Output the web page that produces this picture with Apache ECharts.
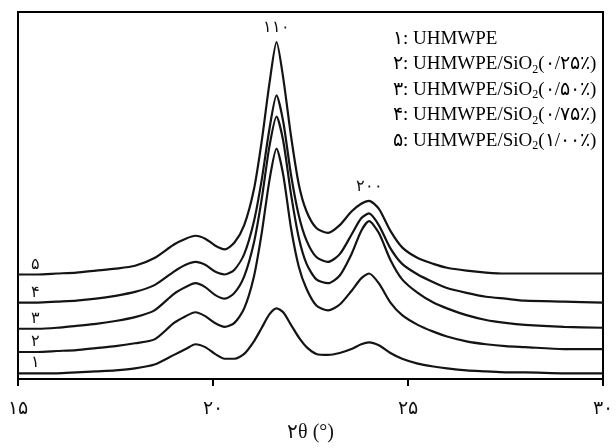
<!DOCTYPE html>
<html><head><meta charset="utf-8">
<script src="https://cdn.jsdelivr.net/npm/echarts@6/dist/echarts.min.js"></script>
<style>html,body{margin:0;padding:0;background:#fff}#c{width:616px;height:448px}</style>
</head><body><div id="c"></div>
<script>
const twoTheta = [15,15.5,16,16.5,17,17.5,18,18.5,19,19.3,19.55,19.8,20.05,20.3,20.55,20.8,21.05,21.25,21.45,21.63,21.8,22.0,22.2,22.4,22.65,22.95,23.25,23.55,23.8,24.0,24.25,24.55,24.85,25.25,25.65,26,26.5,27,27.5,28,29,30];
const curve1 = [6,6,6,7,8,9,11,15,25,31,36,33,26,21,21,26,39,53,67,73,69,56,43,33,26,25,27,31,36,38,35,27,21,16,13,11,9,8,7,7,6,6];
const curve2 = [28,28,29,30,32,34,37,41,58,65,69,65,58,54,58,73,106,151,206,238,211,156,116,93,76,71,77,91,104,109,99,79,66,56,49,44,39,36,34,33,31,31];
const curve3 = [52,52,53,55,57,60,64,71,88,95,99,95,87,83,89,106,141,186,241,271,246,191,146,119,103,99,107,129,153,163,151,123,103,89,79,73,66,61,58,56,54,53];
const curve4 = [79,79,80,81,83,86,90,97,111,118,121,118,111,108,113,129,163,206,259,293,266,211,169,143,126,121,129,149,166,171,159,135,119,108,100,94,89,85,83,81,80,79];
const curve5 = [108,108,109,110,112,114,117,125,139,145,148,145,138,134,141,159,196,246,306,348,311,251,201,173,156,151,159,173,181,184,176,153,136,125,119,115,112,110,109,109,109,109];
const curveNames = ['۱','۲','۳','۴','۵'];
const legendLines = [
  ['۱', null, null],
  ['۲', 'UHMWPE/SiO', '(۰/۲۵٪)'],
  ['۳', 'UHMWPE/SiO', '(۰/۵۰٪)'],
  ['۴', 'UHMWPE/SiO', '(۰/۷۵٪)'],
  ['۵', 'UHMWPE/SiO', '(۱/۰۰٪)']
];
const peakLabels = [['۱۱۰',21.63],['۲۰۰',24.0]];

const fa = s => String(s).replace(/[0-9]/g, d => '۰۱۲۳۴۵۶۷۸۹'[d]);
const serif = '"Liberation Serif","DejaVu Serif",serif';
const all = [curve1,curve2,curve3,curve4,curve5];

const chart = echarts.init(document.getElementById('c'), null, {renderer:'canvas'});
const series = all.map((c,i)=>({
  type:'line', data: twoTheta.map((x,j)=>[x,c[j]]), symbol:'none', smooth:0.25,
  lineStyle:{color:'#141414', width:2.2}, silent:true, z:3
}));
chart.setOption({
  animation:false,
  grid:{left:18, right:10, top:12, bottom:57, show:true, borderColor:'#000', borderWidth:2, backgroundColor:'#fff'},
  xAxis:{type:'value', min:15, max:30, interval:5,
    axisLine:{show:true, lineStyle:{color:'#000', width:2}},
    axisTick:{show:true, length:7, lineStyle:{color:'#000', width:2}},
    axisLabel:{formatter:v=>fa(v), fontFamily:serif, fontSize:19, color:'#111', margin:20, showMinLabel:true, showMaxLabel:true},
    splitLine:{show:false},
    name:'۲θ (°)', nameLocation:'middle', nameGap:40, nameTextStyle:{fontFamily:serif, fontSize:20, color:'#111'}
  },
  yAxis:{type:'value', min:0, max:379, show:false},
  series: series
});

const g = [];
peakLabels.forEach(([t,x])=>{
  const idx = twoTheta.indexOf(x);
  const top = Math.max(...all.map(c=>c[idx]));
  const p = chart.convertToPixel({gridIndex:0},[x, top]);
  g.push({type:'text', x:p[0], y:p[1]-6, style:{text:t, font:'16px '+serif, fill:'#111', textAlign:'center', textVerticalAlign:'bottom'}});
});
all.forEach((c,i)=>{
  const p = chart.convertToPixel({gridIndex:0},[15.45, c[1]]);
  g.push({type:'text', x:p[0], y:p[1]-2, style:{text:curveNames[i], font:'16px '+serif, fill:'#111', textAlign:'center', textVerticalAlign:'bottom'}});
});
legendLines.forEach((l,i)=>{
  const y = 39 + i*25.5;
  const rich = {
    n:{fontFamily:serif, fontSize:19, color:'#111'},
    s:{fontFamily:serif, fontSize:12, color:'#111', padding:[10,0,0,0]}
  };
  const text = l[1] ? `{n|${l[0]}: ${l[1]}}{s|2}{n|${l[2]}}` : `{n|${l[0]}: UHMWPE}`;
  g.push({type:'text', x:393, y:y, style:{text:text, rich:rich, textVerticalAlign:'middle'}});
});
chart.setOption({graphic:g});
</script></body></html>
